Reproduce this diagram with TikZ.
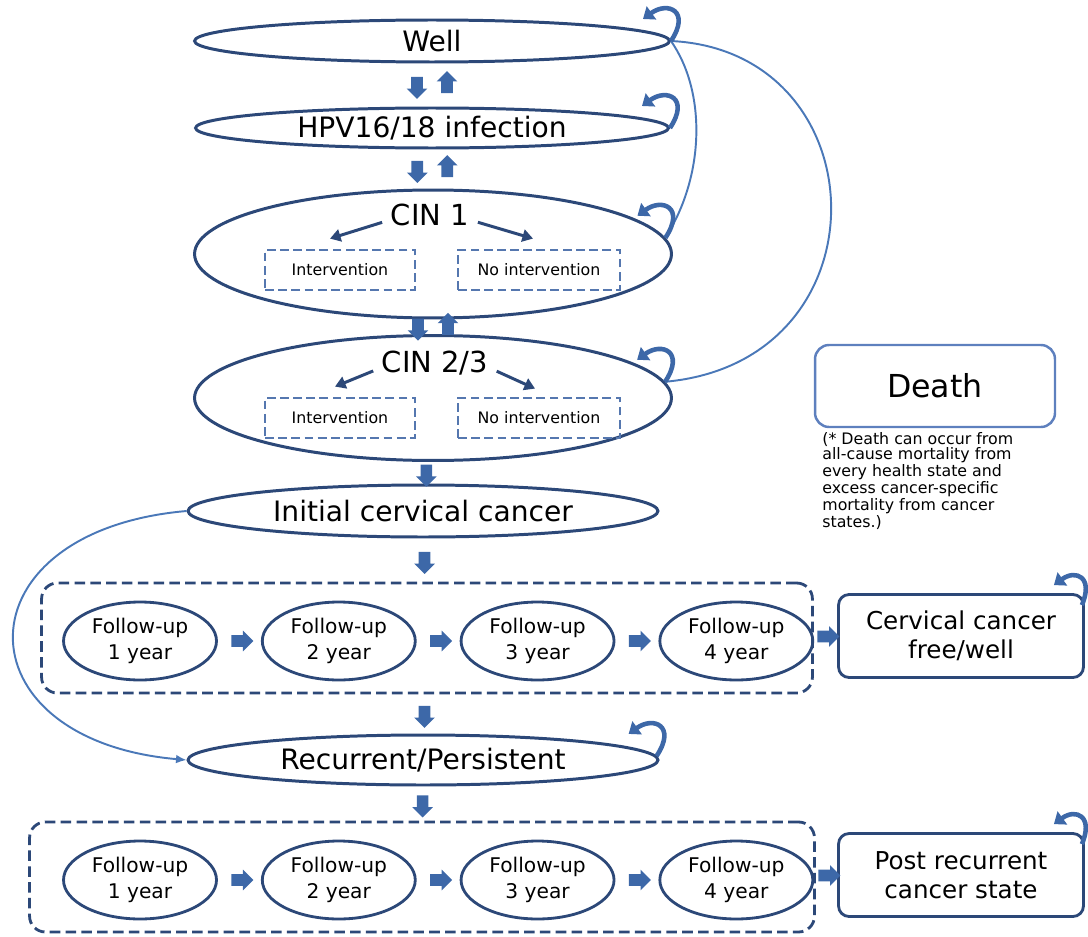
\documentclass[tikz,border=0pt]{standalone}
\usepackage{fontspec}
\setmainfont{DejaVu Sans}
\usepackage{xcolor}
\usetikzlibrary{arrows.meta, positioning, shapes}

\definecolor{stateline}{HTML}{2C4878}
\definecolor{boxdash}{HTML}{5577AF}
\definecolor{arrowfill}{HTML}{3D68A8}
\definecolor{curveblue}{HTML}{4A78B8}
\definecolor{deathline}{HTML}{5E80BE}

\begin{document}
\begin{tikzpicture}[
    x=0.02cm, y=-0.02cm,
    state/.style={ellipse, draw=stateline, line width=1.7pt, inner sep=0pt, fill=white, font=\fontsize{16}{19}\selectfont},
    label/.style={inner sep=1pt, font=\fontsize{16.5}{19}\selectfont},
    fu/.style={ellipse, draw=stateline, line width=1.6pt, minimum width=3.06cm, minimum height=1.56cm, inner sep=0pt, align=center, font=\fontsize{11.5}{14.5}\selectfont},
    choice/.style={rectangle, draw=boxdash, dash pattern=on 5pt off 2.5pt, line width=1.6pt, minimum height=0.8cm, font=\fontsize{9}{11}\selectfont},
    group/.style={rectangle, rounded corners=9pt, draw=stateline, line width=1.6pt, dash pattern=on 6pt off 3pt, minimum height=2.2cm},
    endbox/.style={rectangle, rounded corners=6pt, draw=stateline, line width=1.6pt, minimum width=4.9cm, minimum height=1.66cm, align=center, font=\fontsize{14}{16.5}\selectfont},
    deathbox/.style={rectangle, rounded corners=8pt, draw=deathline, line width=1.4pt, minimum width=4.8cm, minimum height=1.64cm, font=\fontsize{18}{21}\selectfont},
    note/.style={align=left, inner sep=0pt, font=\fontsize{9}{8.6}\selectfont},
    blockdown/.style={single arrow, fill=arrowfill, draw=none, shape border rotate=270, minimum height=0.44cm, single arrow head extend=0.09cm, inner sep=0.11cm},
    blockup/.style={blockdown, shape border rotate=90},
    blockright/.style={blockdown, shape border rotate=0},
    selfloop/.style={draw=arrowfill, line width=2.6pt, -{Triangle[length=6pt,width=9pt]}},
    back/.style={draw=curveblue, line width=1.1pt},
    pick/.style={draw=stateline, line width=1.7pt, -{Triangle[length=6pt,width=7pt]}}
]
\useasboundingbox (0,0) rectangle (1088,936);

% upper states
\node[state, minimum width=9.5cm, minimum height=0.84cm] (well) at (432,41) {Well};
\node[state, minimum width=9.46cm, minimum height=0.8cm] (hpv) at (432,128) {HPV16/18 infection};
\node[state, minimum width=9.54cm, minimum height=2.56cm] (cin1) at (433,254) {};
\node[label] (cin1lbl) at (430,215) {CIN 1};
\node[choice, minimum width=3cm] (int1) at (340,270) {Intervention};
\node[choice, minimum width=3.24cm] (noint1) at (539,270) {No intervention};
\node[state, minimum width=9.54cm, minimum height=2.5cm] (cin23) at (433,398) {};
\node[label] (cin23lbl) at (435,363) {CIN 2/3};
\node[choice, minimum width=3cm] (int23) at (340,418) {Intervention};
\node[choice, minimum width=3.24cm] (noint23) at (539,418) {No intervention};

\draw[pick, shorten <=4pt] ([yshift=-3pt]cin1lbl.west) -- ([shift={(-10,-10)}]int1.north);
\draw[pick, shorten <=4pt] ([yshift=-3pt]cin1lbl.east) -- ([shift={(-6,-10)}]noint1.north);
\draw[pick, shorten <=4pt] ([yshift=-3pt]cin23lbl.west) -- ([shift={(-5,-10)}]int23.north);
\draw[pick, shorten <=4pt] ([yshift=-3pt]cin23lbl.east) -- ([shift={(-4,-8)}]noint23.north);

% cancer states
\node[state, minimum width=9.4cm, minimum height=1.04cm] (init) at (423,511) {Initial cervical cancer};
\node[group, minimum width=15.42cm] (group1) at (427,638) {};
\node[fu] (fua1) at (140,641) {Follow-up\\1 year};
\node[fu, right=0.86cm of fua1] (fua2) {Follow-up\\2 year};
\node[fu, right=0.86cm of fua2] (fua3) {Follow-up\\3 year};
\node[fu, right=0.86cm of fua3] (fua4) {Follow-up\\4 year};
\node[endbox] (cfree) at (961,636) {Cervical cancer\\free/well};

\node[state, minimum width=9.4cm, minimum height=1.0cm] (recur) at (423,760) {Recurrent/Persistent};
\node[group, minimum width=15.7cm] (group2) at (422,877) {};
\node[fu] (fub1) at (140,880) {Follow-up\\1 year};
\node[fu, right=0.86cm of fub1] (fub2) {Follow-up\\2 year};
\node[fu, right=0.86cm of fub2] (fub3) {Follow-up\\3 year};
\node[fu, right=0.86cm of fub3] (fub4) {Follow-up\\4 year};
\node[endbox] (postrec) at (961,875) {Post recurrent\\cancer state};

% death
\node[deathbox] (death) at (935,386) {Death};
\node[note, anchor=north west] (note) at (822,432) {(* Death can occur from\\all-cause mortality from\\every health state and\\excess cancer-specific\\mortality from cancer\\states.)};

% block arrows
\path (well) -- node[blockdown, xshift=-0.3cm] (wd) {} node[blockup, xshift=0.3cm] (wu) {} (hpv);
\path (hpv) -- node[blockdown, xshift=-0.3cm] (hd) {} node[blockup, xshift=0.3cm] (hu) {} (cin1);
\path (cin1) -- node[blockdown, xshift=-0.3cm] (cd) {} node[blockup, xshift=0.3cm] (cu) {} (cin23);
\path (cin23) -- node[blockdown] (c23d) {} (init);
\path (init) -- node[blockdown] (id) {} (group1);
\path (group1) -- node[blockdown] (gd) {} (recur);
\path (recur) -- node[blockdown] (rd) {} (group2);
\path (fua1) -- node[blockright] (ra12) {} (fua2);
\path (fua2) -- node[blockright] (ra23) {} (fua3);
\path (fua3) -- node[blockright] (ra34) {} (fua4);
\path (group1) -- node[blockright] (ra4c) {} (cfree);
\path (fub1) -- node[blockright] (rb12) {} (fub2);
\path (fub2) -- node[blockright] (rb23) {} (fub3);
\path (fub3) -- node[blockright] (rb34) {} (fub4);
\path (group2) -- node[blockright] (rb4p) {} (postrec);

% regression back to well
\draw[back] (cin1.4) .. controls +(40,-63) and +(35,50) .. (well.east);
\draw[back] (cin23.4) .. controls +(225,-20) and +(210,10) .. (well.east);
\draw[back, -{Latex[length=6pt,width=5pt]}] (init.west) .. controls +(-230,20) and +(-230,-20) .. (recur.west);

% staying in the same state
\draw[selfloop] (well.east) .. controls +(20,-30) and +(25,-18) .. ++(-28,-22);
\draw[selfloop] (hpv.east) .. controls +(20,-30) and +(25,-18) .. ++(-28,-22);
\draw[selfloop] (cin1.4) .. controls +(20,-30) and +(25,-18) .. ++(-28,-22);
\draw[selfloop] (cin23.4) .. controls +(20,-30) and +(25,-18) .. ++(-28,-22);
\draw[selfloop] (recur.1) .. controls +(20,-30) and +(25,-18) .. ++(-28,-22);
\draw[selfloop] ([shift={(-3,12)}]cfree.north east) .. controls +(12,-28) and +(22,-16) .. ++(-28,-20);
\draw[selfloop] ([shift={(-3,12)}]postrec.north east) .. controls +(12,-28) and +(22,-16) .. ++(-28,-20);

\end{tikzpicture}
\end{document}
